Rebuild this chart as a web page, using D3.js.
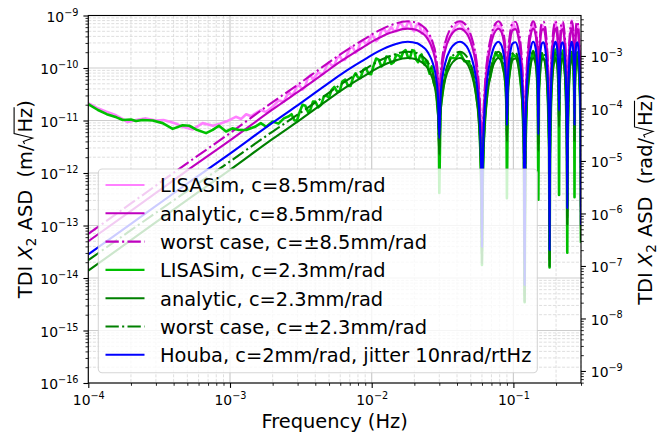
<!DOCTYPE html>
<html><head><meta charset="utf-8">
<script src="https://cdn.jsdelivr.net/npm/d3@7"></script>
<style>body{margin:0;background:#fff}svg{display:block}text{font-family:"DejaVu Sans",sans-serif}</style>
</head><body><svg id="c" width="666" height="432"></svg>
<script>
// ---------- data (ASD values stored as log10 exponents) ----------
const xDomain = [1e-4, 0.3];
const yDomain = [1e-16, 1e-9];
const yRightDomain = [5.9e-10, 5.9e-3];
const legendLabels = ["LISASim, c=8.5mm/rad","analytic, c=8.5mm/rad","worst case, c=\u00b18.5mm/rad","LISASim, c=2.3mm/rad","analytic, c=2.3mm/rad","worst case, c=\u00b12.3mm/rad","Houba, c=2mm/rad, jitter 10nrad/rtHz"];

const freq = [1e-4,2e-4,5e-4,1e-3,2e-3,3e-3,4.5e-3,6e-3,7.5e-3,9e-3,0.0105,0.012,0.0135,0.015,0.0165,0.018,0.0195,0.021,0.0225,0.024,0.0255,0.027,0.0285,0.0294,0.03,
0.0306,0.0315,0.033,0.036,0.039,0.042,0.045,0.048,0.051,0.054,0.057,0.0585,0.0594,0.06,
0.0606,0.0615,0.063,0.066,0.069,0.072,0.075,0.078,0.081,0.084,0.087,0.0885,0.0894,0.09,
0.0915,0.0945,0.099,0.1035,0.108,0.1125,0.1155,0.1185,0.12,
0.1215,0.1245,0.129,0.1335,0.138,0.1425,0.1455,0.1485,0.15,
0.1515,0.1545,0.159,0.1635,0.168,0.1725,0.1755,0.1785,0.18,
0.1815,0.1845,0.189,0.1935,0.198,0.2025,0.2055,0.2085,0.21,
0.2115,0.2145,0.219,0.2235,0.228,0.2325,0.2355,0.2385,0.24,
0.2415,0.2445,0.249,0.2535,0.258,0.2625,0.2655,0.2685,0.27,
0.2715,0.2745,0.279,0.2835,0.288,0.2925,0.2955,0.2985,0.30];

const analytic85 = [-13.30,-12.72,-11.95,-11.38,-10.79,-10.46,-10.12,-9.88,-9.71,-9.58,-9.47,-9.39,-9.33,-9.29,-9.26,-9.25,-9.26,-9.28,-9.33,-9.39,-9.50,-9.66,-9.95,-10.34,-11.09,
-10.34,-9.95,-9.66,-9.39,-9.28,-9.25,-9.29,-9.39,-9.58,-9.88,-10.46,-11.05,-11.85,-13.16,
-11.85,-11.05,-10.46,-9.88,-9.58,-9.39,-9.29,-9.25,-9.28,-9.39,-9.66,-9.95,-10.34,-10.84,
-9.95,-9.50,-9.28,-9.26,-9.39,-9.71,-10.12,-11.05,-13.89,
-11.05,-10.12,-9.58,-9.33,-9.25,-9.33,-9.50,-9.95,-11.02,
-9.95,-9.50,-9.28,-9.26,-9.39,-9.71,-10.12,-11.05,-13.22,
-11.05,-10.12,-9.58,-9.33,-9.25,-9.33,-9.50,-9.95,-10.56,
-9.95,-9.50,-9.28,-9.26,-9.39,-9.71,-10.12,-11.05,-12.42,
-11.05,-10.12,-9.58,-9.33,-9.25,-9.33,-9.50,-9.95,-10.83,
-9.95,-9.50,-9.28,-9.26,-9.39,-9.71,-10.12,-11.05,-12.74];

const worst85 = [-13.16,-12.58,-11.81,-11.24,-10.65,-10.32,-9.98,-9.74,-9.57,-9.44,-9.33,-9.25,-9.19,-9.15,-9.12,-9.11,-9.12,-9.14,-9.19,-9.25,-9.36,-9.52,-9.81,-10.20,-10.95,
-10.20,-9.81,-9.52,-9.25,-9.14,-9.11,-9.15,-9.25,-9.44,-9.74,-10.32,-10.91,-11.71,-13.02,
-11.71,-10.91,-10.32,-9.74,-9.44,-9.25,-9.15,-9.11,-9.14,-9.25,-9.52,-9.81,-10.20,-10.70,
-9.81,-9.36,-9.14,-9.12,-9.25,-9.57,-9.98,-10.91,-13.75,
-10.91,-9.98,-9.44,-9.19,-9.11,-9.19,-9.36,-9.81,-10.88,
-9.81,-9.36,-9.14,-9.12,-9.25,-9.57,-9.98,-10.91,-13.08,
-10.91,-9.98,-9.44,-9.19,-9.11,-9.19,-9.36,-9.81,-10.42,
-9.81,-9.36,-9.14,-9.12,-9.25,-9.57,-9.98,-10.91,-12.28,
-10.91,-9.98,-9.44,-9.19,-9.11,-9.19,-9.36,-9.81,-10.69,
-9.81,-9.36,-9.14,-9.12,-9.25,-9.57,-9.98,-10.91,-12.60];

const houba = [-13.55,-12.97,-12.20,-11.63,-11.04,-10.71,-10.37,-10.13,-9.96,-9.83,-9.72,-9.64,-9.58,-9.54,-9.51,-9.50,-9.51,-9.53,-9.58,-9.64,-9.75,-9.91,-10.20,-10.59,-11.34,
-10.59,-10.20,-9.91,-9.64,-9.53,-9.50,-9.54,-9.64,-9.83,-10.13,-10.71,-11.30,-12.10,-13.41,
-12.10,-11.30,-10.71,-10.13,-9.83,-9.64,-9.54,-9.50,-9.53,-9.64,-9.91,-10.20,-10.59,-11.09,
-10.20,-9.75,-9.53,-9.51,-9.64,-9.96,-10.37,-11.30,-14.14,
-11.30,-10.37,-9.83,-9.58,-9.50,-9.58,-9.75,-10.20,-11.27,
-10.20,-9.75,-9.53,-9.51,-9.64,-9.96,-10.37,-11.30,-13.47,
-11.30,-10.37,-9.83,-9.58,-9.50,-9.58,-9.75,-10.20,-10.81,
-10.20,-9.75,-9.53,-9.51,-9.64,-9.96,-10.37,-11.30,-12.67,
-11.30,-10.37,-9.83,-9.58,-9.50,-9.58,-9.75,-10.20,-11.08,
-10.20,-9.75,-9.53,-9.51,-9.64,-9.96,-10.37,-11.30,-12.99];

const analytic23 = [-13.86,-13.28,-12.51,-11.94,-11.35,-11.02,-10.68,-10.44,-10.27,-10.14,-10.03,-9.95,-9.89,-9.85,-9.82,-9.81,-9.82,-9.84,-9.89,-9.95,-10.06,-10.22,-10.51,-10.90,-11.65,
-10.90,-10.51,-10.22,-9.95,-9.84,-9.81,-9.85,-9.95,-10.14,-10.44,-11.02,-11.61,-12.41,-13.72,
-12.41,-11.61,-11.02,-10.44,-10.14,-9.95,-9.85,-9.81,-9.84,-9.95,-10.22,-10.51,-10.90,-11.40,
-10.51,-10.06,-9.84,-9.82,-9.95,-10.27,-10.68,-11.61,-14.45,
-11.61,-10.68,-10.14,-9.89,-9.81,-9.89,-10.06,-10.51,-11.58,
-10.51,-10.06,-9.84,-9.82,-9.95,-10.27,-10.68,-11.61,-13.78,
-11.61,-10.68,-10.14,-9.89,-9.81,-9.89,-10.06,-10.51,-11.12,
-10.51,-10.06,-9.84,-9.82,-9.95,-10.27,-10.68,-11.61,-12.98,
-11.61,-10.68,-10.14,-9.89,-9.81,-9.89,-10.06,-10.51,-11.39,
-10.51,-10.06,-9.84,-9.82,-9.95,-10.27,-10.68,-11.61,-13.30];

const worst23 = [-13.66,-13.09,-12.34,-11.78,-11.21,-10.89,-10.56,-10.32,-10.15,-10.02,-9.91,-9.83,-9.77,-9.73,-9.70,-9.69,-9.70,-9.72,-9.77,-9.83,-9.94,-10.10,-10.39,-10.78,-11.53,
-10.78,-10.39,-10.10,-9.83,-9.72,-9.69,-9.73,-9.83,-10.02,-10.32,-10.90,-11.49,-12.29,-13.60,
-12.29,-11.49,-10.90,-10.32,-10.02,-9.83,-9.73,-9.69,-9.72,-9.83,-10.10,-10.39,-10.78,-11.28,
-10.39,-9.94,-9.72,-9.70,-9.83,-10.15,-10.56,-11.49,-14.33,
-11.49,-10.56,-10.02,-9.77,-9.69,-9.77,-9.94,-10.39,-11.46,
-10.39,-9.94,-9.72,-9.70,-9.83,-10.15,-10.56,-11.49,-13.66,
-11.49,-10.56,-10.02,-9.77,-9.69,-9.77,-9.94,-10.39,-11.00,
-10.39,-9.94,-9.72,-9.70,-9.83,-10.15,-10.56,-11.49,-12.86,
-11.49,-10.56,-10.02,-9.77,-9.69,-9.77,-9.94,-10.39,-11.27,
-10.39,-9.94,-9.72,-9.70,-9.83,-10.15,-10.56,-11.49,-13.18];

// LISASim (simulated, noisy) curves
const pinkLowFreq = [1.00e-4,1.15e-4,1.33e-4,1.57e-4,1.74e-4,1.90e-4,2.17e-4,2.55e-4,3.01e-4,3.39e-4,3.72e-4,4.17e-4,4.63e-4,5.46e-4,6.41e-4,7.59e-4,8.51e-4,9.38e-4,1.10e-3,1.20e-3,1.30e-3,1.41e-3];
const greenLowFreq = [1.00e-4,1.17e-4,1.35e-4,1.58e-4,1.75e-4,2.00e-4,2.17e-4,2.42e-4,2.85e-4,3.35e-4,3.94e-4,4.63e-4,5.16e-4,5.75e-4,6.78e-4,7.55e-4,8.36e-4,9.38e-4,1.04e-3,1.16e-3,1.30e-3];
const midFreq = [1.5e-3,1.65e-3,1.8e-3,2.0e-3,2.2e-3,2.4e-3,2.6e-3,2.72e-3,2.85e-3,2.97e-3,3.1e-3,3.25e-3,3.4e-3,3.55e-3,3.7e-3,3.85e-3,
4.0e-3,4.2e-3,4.4e-3,4.6e-3,4.8e-3,5.0e-3,5.2e-3,5.45e-3,5.7e-3,5.95e-3,6.2e-3,6.5e-3,6.8e-3,7.1e-3,7.4e-3,7.7e-3,8.0e-3,8.35e-3,8.7e-3,9.1e-3,
9.5e-3,9.9e-3,0.0103,0.01075,0.0112,0.0117,0.0122,0.0127,0.0132,0.01375,0.0143,0.0149,0.0155,0.0161,0.0167,0.01735,0.018,0.01865,0.0193,0.01995,
0.0206,0.02125,0.0219,0.0225,0.0231,0.02365,0.0242,0.0247,0.0252,0.02565,0.0261,0.02655,0.027,0.0274,0.0278,0.02815,0.0285,0.0291,0.0295,0.0298,0.030];

const lisa85 = [-10.67,-10.76,-10.83,-10.90,-10.97,-11.03,-10.99,-10.96,-11.00,-10.99,-11.02,-11.06,-11.12,-11.17,-11.05,-11.10,-11.06,-11.02,-10.93,-10.97,-10.88,-10.92,
-10.87,-10.80,-10.84,-10.74,-10.62,-10.64,-10.45,-10.53,-10.46,-10.34,-10.34,-10.41,-10.35,-10.18,-10.14,-10.22,
-10.16,-10.08,-10.12,-10.10,-9.96,-9.89,-9.95,-9.95,-9.81,-9.77,-9.85,-9.84,-9.71,-9.60,-9.62,-9.71,-9.65,-9.50,-9.47,-9.55,
-9.50,-9.38,-9.40,-9.49,-9.44,-9.29,-9.25,-9.33,-9.29,-9.22,-9.29,-9.30,-9.17,-9.14,-9.22,-9.24,-9.14,-9.13,-9.25,-9.30,
-9.20,-9.15,-9.21,-9.34,-9.34,-9.24,-9.28,-9.43,-9.43,-9.39,-9.46,-9.62,-9.66,-9.59,-9.65,-9.84,-9.89,-10.15,-10.31,-10.78,-11.9,
-10.23,-9.92,-9.52,-9.38,-9.20,-9.12,-9.27,-9.29,-9.54,-9.73,-10.45,-10.96,-11.8,-13.4,
-11.8,-10.94,-10.43,-9.74,-9.57,-9.31,-9.16,-9.23,-9.18,-9.35,-9.51,-9.94,-10.25,-11.2,
-9.84,-9.47,-9.14,-9.25,-9.31,-9.58,-10.10,-10.95,-14.1,
-11.01,-9.97,-9.57,-9.24,-9.14,-9.30,-9.36,-9.94,-11.4,
-9.82,-9.48,-9.18,-9.22,-9.24,-9.70,-10.03,-10.94,-13.5,
-11.02,-9.98,-9.57,-9.25,-9.12,-9.31,-9.40,-9.91,-10.9,
-9.80,-9.49,-9.19,-9.15,-9.36,-9.57,-10.11,-10.97,-12.8,
-10.92,-10.10,-9.48,-9.29,-9.10,-9.32,-9.41,-9.84,-11.1,
-9.92,-9.36,-9.27,-9.18,-9.26,-9.69,-10.02,-11.01,-13.0];

const lisa23 = [-10.69,-10.80,-10.88,-10.94,-10.99,-10.98,-11.01,-10.99,-11.00,-11.05,-11.16,-11.09,-11.10,-11.17,-11.24,-11.18,-11.10,-11.21,-11.15,-11.18,-11.18,
-11.12,-11.05,-11.12,-11.02,-11.06,-10.96,-10.92,-10.88,-11.00,-11.00,-10.84,-10.70,-10.72,-10.84,-10.79,-10.64,
-10.64,-10.75,-10.70,-10.54,-10.53,-10.56,-10.42,-10.36,-10.45,-10.44,-10.26,-10.22,-10.34,-10.34,-10.18,-10.10,-10.18,-10.19,-10.04,-10.00,
-10.11,-10.12,-9.96,-9.82,-9.84,-9.97,-9.93,-9.78,-9.79,-9.92,-9.89,-9.75,-9.76,-9.81,-9.69,-9.66,-9.79,-9.81,-9.66,-9.67,
-9.84,-9.89,-9.77,-9.74,-9.87,-9.94,-9.85,-9.87,-10.04,-10.11,-10.02,-9.97,-10.07,-10.28,-10.33,-10.29,-10.40,-10.75,-10.90,-11.30,-12.38,
-10.78,-10.52,-10.13,-9.80,-9.82,-9.70,-9.87,-9.87,-10.01,-10.41,-10.86,-11.61,-12.4,-13.75,
-12.4,-11.51,-10.98,-10.32,-10.15,-9.86,-9.70,-9.79,-9.73,-9.97,-10.14,-10.38,-10.87,-12.48,
-10.35,-10.06,-9.74,-9.78,-9.83,-10.28,-10.59,-11.46,-14.46,
-11.59,-10.57,-10.16,-9.81,-9.68,-9.86,-9.90,-10.51,-12.51,
-10.41,-10.02,-9.72,-9.83,-9.86,-10.12,-10.66,-11.50,-13.8,
-11.63,-10.60,-10.01,-9.86,-9.65,-9.89,-9.96,-10.47,-12.42,
-10.39,-10.07,-9.75,-9.67,-9.93,-10.16,-10.70,-11.53,-13.52,
-11.48,-10.65,-9.98,-9.89,-9.71,-9.85,-9.94,-10.52,-12.46,
-10.42,-9.91,-9.82,-9.71,-9.97,-10.19,-10.55,-11.58,-13.33];

// ---------- chart ----------
const W = 666, H = 432, L = 88.3, R = 581, T = 15.5, B = 383;
const svg = d3.select('#c');
svg.append('rect').attr('width', W).attr('height', H).attr('fill', '#fff');
svg.append('defs').append('clipPath').attr('id', 'clip').append('rect')
  .attr('x', L).attr('y', T).attr('width', R - L).attr('height', B - T);

const x = d3.scaleLog().domain(xDomain).range([L, R]);
const y = d3.scaleLog().domain(yDomain).range([B, T]);
const yR = d3.scaleLog().domain(yRightDomain).range([B, T]);

function logTicks(lo, hi) {
  const maj = [], min = [];
  for (let e = Math.floor(Math.log10(lo)) - 1; e <= Math.ceil(Math.log10(hi)); e++) {
    for (let m = 1; m < 10; m++) {
      const v = +(m * Math.pow(10, e)).toPrecision(6);
      if (v < lo * 0.9999 || v > hi * 1.0001) continue;
      (m === 1 ? maj : min).push(v);
    }
  }
  return { maj, min };
}
const xt = logTicks(xDomain[0], xDomain[1]);
const yt = logTicks(yDomain[0], yDomain[1]);
const yrt = logTicks(yRightDomain[0], yRightDomain[1]);

// grid
const grid = svg.append('g');
grid.selectAll('.gxm').data(xt.min).join('line').attr('x1', d => x(d)).attr('x2', d => x(d)).attr('y1', T).attr('y2', B)
  .attr('stroke', '#d6d6d6').attr('stroke-width', 0.8).attr('stroke-dasharray', '3,1.6');
grid.selectAll('.gym').data(yt.min).join('line').attr('y1', d => y(d)).attr('y2', d => y(d)).attr('x1', L).attr('x2', R)
  .attr('stroke', '#d6d6d6').attr('stroke-width', 0.8).attr('stroke-dasharray', '3,1.6');
grid.selectAll('.gxM').data(xt.maj).join('line').attr('x1', d => x(d)).attr('x2', d => x(d)).attr('y1', T).attr('y2', B)
  .attr('stroke', '#cdcdcd').attr('stroke-width', 1.2);
grid.selectAll('.gyM').data(yt.maj).join('line').attr('y1', d => y(d)).attr('y2', d => y(d)).attr('x1', L).attr('x2', R)
  .attr('stroke', '#cdcdcd').attr('stroke-width', 1.2);

// series
const pts = (fs, ls) => fs.map((f, i) => [f, Math.pow(10, ls[i])]);
const lobeFreq = freq.slice(25);
const DASHDOT = '13.3,3.3,2.1,3.3';
const series = [
  { f: pinkLowFreq.concat(midFreq, lobeFreq), v: lisa85, color: '#ff80ff', dash: null, w: 2.6, curve: d3.curveLinear },
  { f: freq, v: analytic85, color: '#bf00bf', dash: null, w: 2.1, curve: d3.curveMonotoneX },
  { f: freq, v: worst85, color: '#bf00bf', dash: DASHDOT, w: 2.1, curve: d3.curveMonotoneX },
  { f: greenLowFreq.concat(midFreq, lobeFreq), v: lisa23, color: '#00c000', dash: null, w: 2.6, curve: d3.curveLinear },
  { f: freq, v: analytic23, color: '#008000', dash: null, w: 2.1, curve: d3.curveMonotoneX },
  { f: freq, v: worst23, color: '#008000', dash: DASHDOT, w: 2.1, curve: d3.curveMonotoneX },
  { f: freq, v: houba, color: '#0000ff', dash: null, w: 2.1, curve: d3.curveMonotoneX }
];
const plot = svg.append('g').attr('clip-path', 'url(#clip)');
series.forEach(s => {
  const line = d3.line().x(d => x(d[0])).y(d => y(d[1])).curve(s.curve);
  plot.append('path').datum(pts(s.f, s.v)).attr('d', line).attr('fill', 'none')
    .attr('stroke', s.color).attr('stroke-width', s.w).attr('stroke-dasharray', s.dash)
    .attr('stroke-linejoin', 'round');
});

// legend
const lg = svg.append('g');
lg.append('rect').attr('x', 98.3).attr('y', 169).attr('width', 439).attr('height', 203.7).attr('rx', 4)
  .attr('fill', '#fff').attr('fill-opacity', 0.8).attr('stroke', '#cccccc').attr('stroke-opacity', 0.8).attr('stroke-width', 1.1);
legendLabels.forEach((t, i) => {
  const cy = 185 + i * 28.3;
  const s = series[i];
  lg.append('line').attr('x1', 105.5).attr('x2', 144.5).attr('y1', cy).attr('y2', cy)
    .attr('stroke', s.color).attr('stroke-width', 2.1).attr('stroke-dasharray', s.dash);
  lg.append('text').attr('x', 160).attr('y', cy + 7.3).attr('font-size', 19.4).attr('fill', '#000').text(t);
});

// axes
function fmtPow(sel) {
  sel.selectAll('.tick text').each(function (d) {
    const e = Math.round(Math.log10(d));
    const t = d3.select(this).text(null).attr('dy', null);
    t.append('tspan').text('10');
    t.append('tspan').attr('dy', -6.3).attr('font-size', 9.7).text('\u2212' + Math.abs(e));
  });
}
function styleAxis(g) {
  g.select('.domain').remove();
  g.selectAll('.tick line').attr('stroke', '#000').attr('stroke-width', 1.1);
  g.selectAll('text').attr('font-family', '"DejaVu Sans"').attr('font-size', 13.9).attr('fill', '#000');
}
const axB = svg.append('g').attr('transform', `translate(0,${B})`)
  .call(d3.axisBottom(x).tickValues(xt.maj).tickSize(4.9).tickSizeOuter(0));
styleAxis(axB); fmtPow(axB);
axB.selectAll('.tick text').attr('y', 22);
const axBm = svg.append('g').attr('transform', `translate(0,${B})`)
  .call(d3.axisBottom(x).tickValues(xt.min).tickSize(2.8).tickFormat(''));
styleAxis(axBm); axBm.selectAll('.tick line').attr('stroke-width', 0.85);

const axL = svg.append('g').attr('transform', `translate(${L},0)`)
  .call(d3.axisLeft(y).tickValues(yt.maj).tickSize(4.9).tickSizeOuter(0));
styleAxis(axL); fmtPow(axL);
axL.selectAll('.tick text').attr('x', -9.8).attr('y', 5.8).attr('text-anchor', 'end');
const axLm = svg.append('g').attr('transform', `translate(${L},0)`)
  .call(d3.axisLeft(y).tickValues(yt.min).tickSize(2.8).tickFormat(''));
styleAxis(axLm); axLm.selectAll('.tick line').attr('stroke-width', 0.85);

const axR = svg.append('g').attr('transform', `translate(${R},0)`)
  .call(d3.axisRight(yR).tickValues(yrt.maj).tickSize(4.9).tickSizeOuter(0));
styleAxis(axR); fmtPow(axR);
axR.selectAll('.tick text').attr('x', 9.8).attr('y', 5.8).attr('text-anchor', 'start');
const axRm = svg.append('g').attr('transform', `translate(${R},0)`)
  .call(d3.axisRight(yR).tickValues(yrt.min).tickSize(2.8).tickFormat(''));
styleAxis(axRm); axRm.selectAll('.tick line').attr('stroke-width', 0.85);

// spines
svg.append('rect').attr('x', L).attr('y', T).attr('width', R - L).attr('height', B - T)
  .attr('fill', 'none').attr('stroke', '#000').attr('stroke-width', 1.1);

// axis labels
svg.append('text').attr('x', (L + R) / 2).attr('y', 428).attr('text-anchor', 'middle')
  .attr('font-size', 19.4).attr('fill', '#000').text('Frequency (Hz)');

function yLabel(cx, cy, unit) {
  const g = svg.append('g').attr('transform', `translate(${cx},${cy}) rotate(-90)`);
  const parts = [{ t: 'TDI ' }, { t: 'X', it: true }, { t: '2', sub: true }, { t: ' ASD  (' + unit + '/' }, { rad: true }, { t: 'Hz', over: true }, { t: ')' }];
  let cur = 0; const items = [];
  parts.forEach(p => {
    if (p.rad) { items.push({ p, x: cur, w: 12 }); cur += 12; return; }
    const el = g.append('text').attr('x', cur).attr('y', p.sub ? 4.2 : 0)
      .attr('font-size', p.sub ? 13.6 : 19.4).attr('fill', '#000')
      .style('white-space', 'pre').style('font-style', p.it ? 'italic' : null).text(p.t);
    const w = el.node().getComputedTextLength();
    items.push({ p, el, x: cur, w }); cur += w + (p.sub ? 1 : 0);
  });
  const off = -cur / 2;
  items.forEach(it => { if (it.el) it.el.attr('x', it.x + off); });
  const r = items.find(it => it.p.rad), hz = items.find(it => it.p.over);
  const x0 = r.x + off, x1 = hz.x + off + hz.w + 0.5;
  g.append('path').attr('d', `M${x0 + 0.5},-7 L${x0 + 3},-8.3 L${x0 + 6.5},1 L${x0 + 11},-17.5 L${x1},-17.5`)
    .attr('fill', 'none').attr('stroke', '#000').attr('stroke-width', 1.1).attr('stroke-linejoin', 'miter');
}
yLabel(31.6, 199.2, 'm');
yLabel(652, 199.2, 'rad');
</script></body></html>
